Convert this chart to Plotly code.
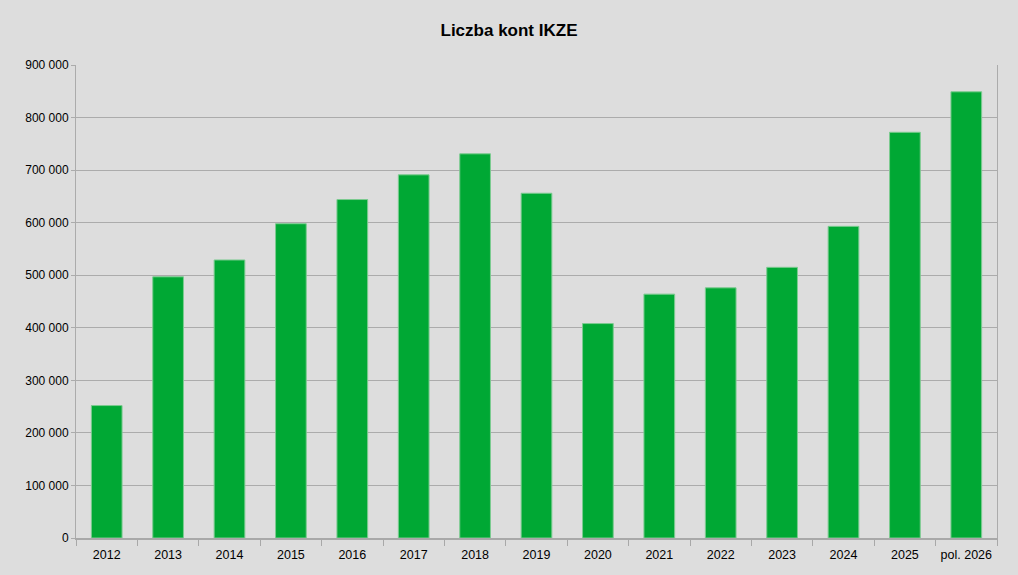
import plotly.graph_objects as go

# Liczba kont IKZE per year
years = ["2012", "2013", "2014", "2015", "2016", "2017", "2018", "2019",
         "2020", "2021", "2022", "2023", "2024", "2025", "pol. 2026"]
accounts = [252000, 497000, 529000, 598000, 644000, 691000, 731000, 656000,
            408000, 464000, 476000, 515000, 593000, 772000, 849000]
y_ticks = [0, 100000, 200000, 300000, 400000, 500000, 600000, 700000, 800000, 900000]

bg = "#DDDDDD"
grid = "#ABABAB"

fig = go.Figure(
    go.Bar(
        x=years,
        y=accounts,
        marker=dict(color="#00A834", line=dict(color="#7CCB90", width=1)),
        hoverinfo="x+y",
    )
)

fig.update_layout(
    width=1018,
    height=575,
    paper_bgcolor=bg,
    plot_bgcolor=bg,
    separators=". ",
    bargap=0.5,
    showlegend=False,
    margin=dict(l=76, r=21, t=65, b=37),
    font=dict(family="Liberation Sans, Arial, sans-serif", size=12, color="#000000"),
    title=dict(
        text="<b>Liczba kont IKZE</b>",
        x=0.5,
        xanchor="center",
        y=0.947,
        yanchor="middle",
        font=dict(size=17, color="#000000"),
    ),
)

fig.update_xaxes(
    type="category",
    showgrid=False,
    showline=True,
    linecolor="#A8A8A8",
    linewidth=2,
    mirror=False,
    ticks="outside",
    tickson="boundaries",
    ticklen=6,
    tickcolor="#A8A8A8",
    ticklabelstandoff=4,
    tickfont=dict(size=12.5),
)

fig.update_yaxes(
    range=[0, 900000],
    tickvals=y_ticks,
    tickformat=",d",
    showgrid=True,
    gridcolor=grid,
    gridwidth=1,
    showline=True,
    linecolor=grid,
    linewidth=1,
    mirror=True,
    ticks="outside",
    ticklen=4,
    tickcolor=grid,
    zeroline=False,
    tickfont=dict(size=12),
)

# the page body has a default 8px margin; drop it so the chart fills the window
fig.write_html(
    "out.html",
    config={"displayModeBar": False},
    post_script="document.body.style.margin='0';",
)
